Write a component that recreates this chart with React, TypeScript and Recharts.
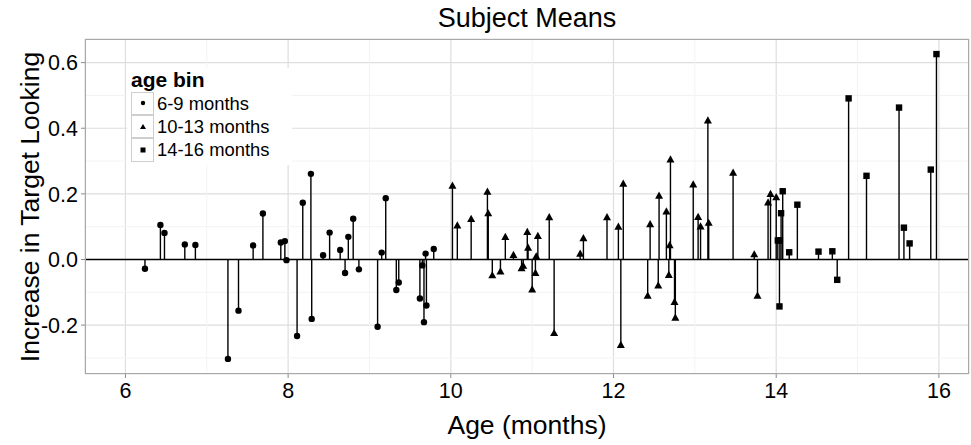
import { ComposedChart, Scatter, XAxis, YAxis, CartesianGrid, ReferenceLine, ErrorBar } from "recharts";

// 6-9 months (circles)
const youngAges = [6.24, 6.43, 6.48, 6.73, 6.86, 7.26, 7.39, 7.57, 7.69, 7.91, 7.96, 7.98, 8.11, 8.18, 8.28, 8.29, 8.43, 8.51, 8.64, 8.7, 8.74, 8.8, 8.87, 9.1, 9.15, 9.2, 9.33, 9.36, 9.62, 9.65, 9.67, 9.69, 9.7, 9.79];
const youngValues = [-0.028, 0.105, 0.081, 0.046, 0.044, -0.303, -0.156, 0.043, 0.14, 0.052, 0.056, -0.002, -0.233, 0.173, 0.261, -0.181, 0.013, 0.082, 0.029, -0.041, 0.069, 0.124, -0.03, -0.205, 0.021, 0.187, -0.093, -0.07, -0.119, -0.018, -0.191, 0.018, -0.14, 0.032];

// 10-13 months (triangles)
const midAges = [10.02, 10.08, 10.25, 10.45, 10.46, 10.51, 10.61, 10.67, 10.77, 10.87, 10.89, 10.94, 10.95, 11.0, 11.04, 11.05, 11.07, 11.21, 11.27, 11.59, 11.63, 11.92, 12.06, 12.09, 12.12, 12.42, 12.45, 12.55, 12.56, 12.65, 12.68, 12.69, 12.7, 12.75, 12.76, 12.98, 13.04, 13.07, 13.16, 13.17, 13.47, 13.73, 13.77, 13.9, 13.93, 14.0];
const midValues = [0.224, 0.103, 0.123, 0.206, 0.14, -0.049, -0.037, 0.068, 0.013, -0.027, -0.02, 0.083, 0.035, -0.092, -0.042, 0.009, 0.071, 0.128, -0.225, 0.017, 0.064, 0.128, 0.099, -0.261, 0.23, -0.111, 0.107, -0.08, 0.194, 0.146, -0.048, 0.043, 0.304, -0.13, -0.178, 0.228, 0.129, 0.1, 0.423, 0.111, 0.264, 0.015, -0.111, 0.173, 0.199, 0.189];

// 14-16 months (squares)
const oldAges = [14.02, 14.04, 14.045, 14.06, 14.08, 14.16, 14.26, 14.52, 14.69, 14.75, 14.89, 15.11, 15.51, 15.57, 15.64, 15.9, 15.97];
const oldValues = [0.058, -0.143, 0.058, 0.141, 0.208, 0.022, 0.167, 0.024, 0.025, -0.062, 0.491, 0.255, 0.463, 0.097, 0.049, 0.274, 0.626];

const xTicks = [6, 8, 10, 12, 14, 16];
const yTicks = [-0.2, 0, 0.2, 0.4, 0.6];
const xMinor = [7, 9, 11, 13, 15];
const yMinor = [-0.3, -0.1, 0.1, 0.3, 0.5];
const binLabels = ["6-9 months", "10-13 months", "14-16 months"];

const toPoints = (ages: number[], values: number[]) => ages.map((age, i) => ({ age, value: values[i] }));
const stem = (d: { value: number }) => (d.value > 0 ? [d.value, 0] : [0, -d.value]);

const font = '"Liberation Sans", Arial, Helvetica, sans-serif';

const Dot = (p: any) => <circle cx={p.cx} cy={p.cy} r={3.2} fill="#000" />;
const Tri = (p: any) => (
  <polygon points={`${p.cx},${p.cy - 4.4} ${p.cx - 4},${p.cy + 2.8} ${p.cx + 4},${p.cy + 2.8}`} fill="#000" />
);
const Sq = (p: any) => <rect x={p.cx - 3.2} y={p.cy - 3.2} width={6.4} height={6.4} fill="#000" />;

function KeyIcon({ kind }: { kind: number }) {
  return (
    <svg width={22} height={22}>
      {kind === 0 && <circle cx={11} cy={11} r={2.2} fill="#000" />}
      {kind === 1 && <polygon points="11,8 8,13 14,13" fill="#000" />}
      {kind === 2 && <rect x={8.5} y={8.5} width={5} height={5} fill="#000" />}
    </svg>
  );
}

export default function App() {
  return (
    <div style={{ position: "absolute", left: 0, top: 0, width: 971, height: 445, background: "#fff", fontFamily: font }}>
      <ComposedChart width={971} height={445} margin={{ top: 39, right: 2, bottom: 0, left: 0 }}>
        {xMinor.map((v) => (
          <ReferenceLine key={"xm" + v} x={v} stroke="#f3f3f3" strokeWidth={1} />
        ))}
        {yMinor.map((v) => (
          <ReferenceLine key={"ym" + v} y={v} stroke="#f3f3f3" strokeWidth={1} />
        ))}
        <CartesianGrid stroke="#dedede" strokeWidth={1.2} />
        <XAxis
          type="number"
          dataKey="age"
          domain={[5.503, 16.37]}
          ticks={xTicks}
          allowDataOverflow
          height={71}
          axisLine={false}
          tickLine={{ stroke: "#8c8c8c" }}
          tickSize={4}
          tickMargin={5}
          tick={{ fill: "#000", fontSize: 21.5, fontFamily: font }}
        />
        <YAxis
          type="number"
          dataKey="value"
          domain={[-0.349, 0.672]}
          ticks={yTicks}
          allowDataOverflow
          width={85}
          axisLine={false}
          tickLine={{ stroke: "#8c8c8c" }}
          tickSize={4}
          tickMargin={3}
          tickFormatter={(v: number) => v.toFixed(1)}
          tick={{ fill: "#000", fontSize: 21.5, fontFamily: font }}
        />
        <ReferenceLine y={0} stroke="#000" strokeWidth={1.4} />
        <Scatter data={toPoints(youngAges, youngValues)} shape={Dot} isAnimationActive={false}>
          <ErrorBar dataKey={stem} direction="y" width={0} stroke="#000" strokeWidth={1.4} isAnimationActive={false} />
        </Scatter>
        <Scatter data={toPoints(midAges, midValues)} shape={Tri} isAnimationActive={false}>
          <ErrorBar dataKey={stem} direction="y" width={0} stroke="#000" strokeWidth={1.4} isAnimationActive={false} />
        </Scatter>
        <Scatter data={toPoints(oldAges, oldValues)} shape={Sq} isAnimationActive={false}>
          <ErrorBar dataKey={stem} direction="y" width={0} stroke="#000" strokeWidth={1.4} isAnimationActive={false} />
        </Scatter>
      </ComposedChart>

      <div style={{ position: "absolute", left: 85, top: 39, width: 884, height: 335, border: "1px solid #a8a8a8", boxSizing: "border-box", pointerEvents: "none" }} />

      <div style={{ position: "absolute", left: 85, width: 884, top: 4, textAlign: "center", fontSize: 27, lineHeight: "28px" }}>Subject Means</div>
      <div style={{ position: "absolute", left: 85, width: 884, top: 411, textAlign: "center", fontSize: 26.5, lineHeight: "28px" }}>Age (months)</div>
      <div style={{ position: "absolute", left: 30, top: 207, transform: "translate(-50%, -50%) rotate(-90deg)", whiteSpace: "nowrap", fontSize: 26.5, lineHeight: "28px" }}>
        Increase in Target Looking
      </div>

      <div style={{ position: "absolute", left: 127, top: 68, width: 165, height: 97, background: "#fff" }}>
        <div style={{ position: "absolute", left: 4, top: 0, fontSize: 21, fontWeight: "bold", lineHeight: "24px" }}>age bin</div>
        {binLabels.map((label, i) => (
          <div key={label} style={{ position: "absolute", left: 4, top: 23.7 + i * 23.3, height: 23.3, display: "flex", alignItems: "center" }}>
            <div style={{ width: 23, height: 23.3, boxSizing: "border-box", border: "1px solid #cfcfcf", display: "flex", alignItems: "center", justifyContent: "center" }}>
              <KeyIcon kind={i} />
            </div>
            <span style={{ fontSize: 18.4, marginLeft: 3, lineHeight: "23px" }}>{label}</span>
          </div>
        ))}
      </div>
    </div>
  );
}
